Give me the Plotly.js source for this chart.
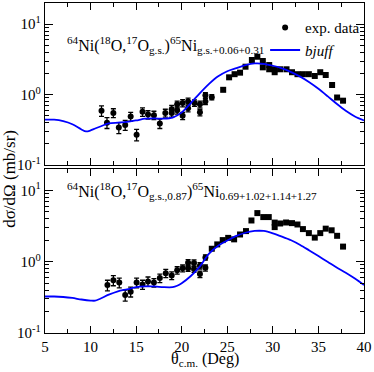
<!DOCTYPE html>
<html>
<head>
<meta charset="utf-8">
<script src="https://cdn.plot.ly/plotly-3.0.1.min.js"></script>
<style>
  html, body { margin: 0; padding: 0; background: #fff; }
  #chart { width: 374px; height: 372px; }
</style>
</head>
<body>
<div id="chart"></div>
<script>
// upper panel: g.s. + 0.06 + 0.31
const topAngErr = [11.2, 11.8, 12.5, 13.1, 13.8, 14.4, 15.05, 15.7, 16.3, 16.95, 17.6, 18.2, 18.9, 18.9, 19.5, 19.5, 20.1, 20.1, 20.7, 20.7, 21.4, 22.0, 22.0, 22.6, 22.6, 23.3];
const topXsErr = [0.59, 0.40, 0.55, 0.34, 0.37, 0.49, 0.27, 0.57, 0.52, 0.51, 0.39, 0.55, 0.55, 0.62, 0.60, 0.73, 0.50, 0.76, 0.64, 0.80, 0.76, 0.56, 0.73, 0.80, 0.98, 0.92];
const topErr = [0.10, 0.07, 0.08, 0.06, 0.06, 0.07, 0.05, 0.08, 0.07, 0.07, 0.06, 0.07, 0.07, 0.08, 0.07, 0.08, 0.06, 0.09, 0.07, 0.09, 0.08, 0.06, 0.08, 0.08, 0.09, 0.08];
const topAng = [24.55, 25.2, 25.8, 26.4, 27.0, 27.7, 28.3, 28.9, 28.9, 29.6, 29.6, 30.2, 30.2, 30.8, 31.5, 32.1, 32.7, 33.3, 33.95, 34.6, 35.2, 35.8, 36.5, 37.05, 37.7];
const topXs = [1.17, 1.76, 1.95, 2.05, 2.49, 3.10, 3.45, 3.00, 2.44, 2.63, 2.29, 2.29, 2.08, 2.29, 2.29, 2.08, 1.95, 1.95, 1.95, 1.84, 2.08, 1.90, 1.37, 0.91, 0.82];
const topThAng = [5, 6, 7, 8, 9, 9.5, 10, 10.5, 11, 12, 13, 14, 15, 16, 17, 18, 19, 20, 21, 22, 23, 24, 25, 26, 27, 28, 29, 30, 31, 32, 33, 34, 35, 36, 37, 38, 39, 40];
const topTh = [0.44, 0.44, 0.42, 0.38, 0.32, 0.30, 0.31, 0.33, 0.35, 0.39, 0.40, 0.41, 0.43, 0.455, 0.46, 0.455, 0.47, 0.56, 0.76, 1.05, 1.42, 1.82, 2.15, 2.38, 2.62, 2.77, 2.74, 2.57, 2.36, 2.09, 1.80, 1.50, 1.21, 0.95, 0.74, 0.59, 0.49, 0.43];

// lower panel: g.s., 0.87 -> 0.69 + 1.02 + 1.14 + 1.27
const botAngErr = [11.85, 12.5, 13.15, 13.8, 14.4, 15.05, 15.7, 16.3, 16.95, 17.6, 18.25, 18.9, 19.5, 20.1, 20.7, 20.7, 21.35, 21.35, 22.0, 22.0, 22.6, 22.6];
const botXsErr = [0.47, 0.55, 0.51, 0.34, 0.38, 0.51, 0.48, 0.53, 0.51, 0.59, 0.69, 0.64, 0.76, 0.81, 0.97, 0.81, 0.96, 0.79, 0.88, 0.67, 1.15, 0.82];
const botErr = [0.08, 0.09, 0.08, 0.06, 0.06, 0.08, 0.07, 0.08, 0.07, 0.08, 0.09, 0.08, 0.09, 0.09, 0.10, 0.08, 0.10, 0.08, 0.09, 0.07, 0.10, 0.08];
const botAng = [23.3, 23.9, 24.5, 25.1, 25.75, 26.4, 27.05, 27.65, 28.3, 28.95, 29.55, 30.2, 30.2, 30.8, 31.45, 32.1, 32.7, 33.3, 33.95, 34.6, 35.2, 35.8, 36.45, 37.05, 37.7];
const botXs = [1.52, 1.75, 2.01, 2.16, 2.06, 2.41, 2.69, 3.79, 4.81, 4.23, 4.23, 3.54, 3.06, 3.44, 3.55, 3.48, 3.33, 2.87, 2.52, 2.18, 2.52, 2.91, 2.76, 2.31, 1.63];
const botThAng = [5, 6, 7, 8, 9, 10, 10.5, 11, 12, 13, 14, 15, 16, 17, 18, 19, 19.5, 20, 21, 22, 23, 24, 25, 26, 27, 28, 28.5, 29, 30, 31, 32, 33, 34, 35, 36, 37, 38, 39, 40];
const botTh = [0.325, 0.325, 0.32, 0.31, 0.295, 0.285, 0.284, 0.30, 0.345, 0.385, 0.41, 0.44, 0.45, 0.45, 0.44, 0.44, 0.46, 0.50, 0.63, 0.86, 1.30, 1.68, 1.98, 2.30, 2.55, 2.70, 2.72, 2.70, 2.50, 2.25, 2.00, 1.72, 1.44, 1.20, 1.00, 0.83, 0.70, 0.58, 0.47];

const yTickVals = [0.1, 1, 10];
const yTickText = ['10<sup>-1</sup>', '10<sup>0</sup>', '10<sup>1</sup>'];
const yMinorVals = [0.2, 0.3, 0.4, 0.5, 0.6, 0.7, 0.8, 0.9, 2, 3, 4, 5, 6, 7, 8, 9, 20];

const serif = 'Liberation Serif';
const blue = '#0000ff';

function errTrace(x, y, err, xa, ya, legend) {
    return {
        x: x, y: y, xaxis: xa, yaxis: ya,
        type: 'scatter', mode: 'markers',
        name: 'exp. data', showlegend: legend,
        marker: {symbol: 'circle', size: 6, color: '#000'},
        error_y: {type: 'data', array: err, visible: true, color: '#000', thickness: 1.3, width: 2.5}
    };
}

function sqTrace(x, y, xa, ya) {
    return {
        x: x, y: y, xaxis: xa, yaxis: ya,
        type: 'scatter', mode: 'markers', showlegend: false,
        marker: {symbol: 'square', size: 6, color: '#000'}
    };
}

function thTrace(x, y, xa, ya, legend) {
    return {
        x: x, y: y, xaxis: xa, yaxis: ya,
        type: 'scatter', mode: 'lines',
        name: '<i>bjuff</i>', showlegend: legend,
        line: {color: blue, width: 1.8, shape: 'spline', smoothing: 0.8}
    };
}

const traces = [
    errTrace(topAngErr, topXsErr, topErr, 'x2', 'y2', true),
    sqTrace(topAng, topXs, 'x2', 'y2'),
    thTrace(topThAng, topTh, 'x2', 'y2', true),
    errTrace(botAngErr, botXsErr, botErr, 'x', 'y', false),
    sqTrace(botAng, botXs, 'x', 'y'),
    thTrace(botThAng, botTh, 'x', 'y', false)
];

const xCommon = {
    range: [5, 40], dtick: 5, tick0: 5,
    ticks: 'inside', ticklen: 7, tickwidth: 1, tickcolor: '#000',
    minor: {dtick: 2.5, tick0: 5, ticks: 'inside', ticklen: 4, tickcolor: '#000'},
    showline: true, linecolor: '#000', linewidth: 1.3, mirror: 'ticks',
    showgrid: false, zeroline: false,
    tickfont: {family: serif, size: 15, color: '#000'}
};

const yCommon = {
    type: 'log', range: [-1, Math.log10(20)],
    tickmode: 'array', tickvals: yTickVals, ticktext: yTickText,
    ticks: 'inside', ticklen: 8, tickwidth: 1, tickcolor: '#000',
    minor: {tickmode: 'array', tickvals: yMinorVals, ticks: 'inside', ticklen: 4, tickcolor: '#000'},
    showline: true, linecolor: '#000', linewidth: 1.3, mirror: 'ticks',
    showgrid: false, zeroline: false,
    tickfont: {family: serif, size: 15, color: '#000'}
};

const layout = {
    width: 374, height: 372,
    margin: {l: 45, r: 10, t: 3, b: 39},
    paper_bgcolor: '#fff', plot_bgcolor: '#fff',
    font: {family: serif, color: '#000'},
    showlegend: true,
    legend: {
        x: 0.69, y: 0.975, xanchor: 'left', yanchor: 'top',
        bgcolor: 'rgba(0,0,0,0)', borderwidth: 0,
        font: {family: serif, size: 15, color: '#000'},
        tracegroupgap: 0
    },
    xaxis: {...xCommon, anchor: 'y'},
    yaxis: {...yCommon, domain: [0, 0.497], anchor: 'x'},
    xaxis2: {...xCommon, anchor: 'y2', matches: 'x', showticklabels: false},
    yaxis2: {...yCommon, domain: [0.509, 1], anchor: 'x2'},
    annotations: [
        {
            text: '<sup>64</sup>Ni(<sup>18</sup>O,<sup>17</sup>O<sub>g.s.</sub>)<sup>65</sup>Ni<sub>g.s.+0.06+0.31</sub>',
            xref: 'paper', yref: 'paper', x: 0.063, y: 0.873,
            xanchor: 'left', yanchor: 'middle', showarrow: false,
            font: {family: serif, size: 16, color: '#000'}
        },
        {
            text: '<sup>64</sup>Ni(<sup>18</sup>O,<sup>17</sup>O<sub>g.s.,0.87</sub>)<sup>65</sup>Ni<sub>0.69+1.02+1.14+1.27</sub>',
            xref: 'paper', yref: 'paper', x: 0.063, y: 0.430,
            xanchor: 'left', yanchor: 'middle', showarrow: false,
            font: {family: serif, size: 16, color: '#000'}
        },
        {
            text: 'dσ/dΩ (mb/sr)',
            xref: 'paper', yref: 'paper', x: -0.11, y: 0.467,
            xanchor: 'center', yanchor: 'middle', showarrow: false, textangle: -90,
            font: {family: serif, size: 17, color: '#000'}
        },
        {
            text: 'θ<sub>c.m.</sub> (Deg)',
            xref: 'paper', yref: 'paper', x: 0.5, y: -0.08,
            xanchor: 'center', yanchor: 'middle', showarrow: false, borderpad: 0,
            font: {family: serif, size: 16, color: '#000'}
        }
    ]
};

Plotly.newPlot('chart', traces, layout, {displayModeBar: false, staticPlot: true});
</script>
</body>
</html>
